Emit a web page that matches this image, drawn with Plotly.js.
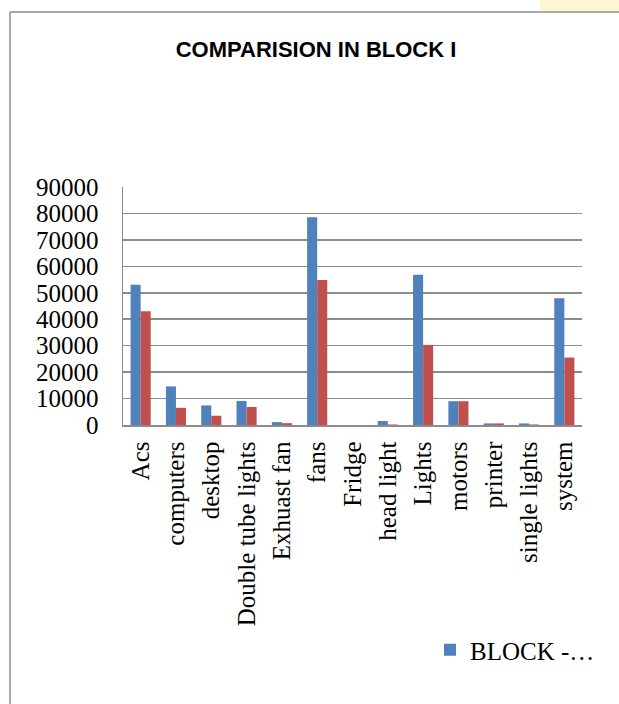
<!DOCTYPE html>
<html>
<head>
<meta charset="utf-8">
<script src="https://cdn.plot.ly/plotly-3.0.1.min.js"></script>
<style>
  html, body { margin: 0; padding: 0; background: #ffffff; overflow: hidden; }
  #chart { width: 619px; height: 704px; }
</style>
</head>
<body>
<div id="chart"></div>
<script>
// Appliance loads in Block I, two series per category
const categories = ["Acs", "computers", "desktop", "Double tube lights", "Exhuast fan",
  "fans", "Fridge", "head light", "Lights", "motors", "printer", "single lights", "system"];
const seriesA = [53000, 14600, 7400, 9100, 1100, 78600, 0, 1500, 56800, 9000, 600, 600, 47900];
const seriesB = [43000, 6500, 3500, 6800, 700, 54800, 0, 200, 30300, 9000, 600, 200, 25500];
const yTicks = [0, 10000, 20000, 30000, 40000, 50000, 60000, 70000, 80000, 90000];

const serif = "Liberation Serif, Times New Roman, serif";
const frameColor = "#8c8c8c";

const traces = [
  { type: "bar", x: categories, y: seriesA, name: "BLOCK -…",
    marker: { color: "#4F81BD" }, showlegend: true },
  { type: "bar", x: categories, y: seriesB, name: "BLOCK - II",
    marker: { color: "#C0504D" }, showlegend: false }
];

// plot area spans x 123..582 px and y 187..425 px
const px = v => (v - 123) / 459;
const py = v => (425 - v) / 238;

const layout = {
  width: 619, height: 704,
  margin: { l: 123, r: 37, t: 187, b: 279 },
  paper_bgcolor: "#ffffff", plot_bgcolor: "#ffffff",
  barmode: "group", bargap: 0.43, bargroupgap: 0,
  title: {
    text: "<b>COMPARISION IN BLOCK I</b>",
    font: { family: "Liberation Sans, Arial, sans-serif", size: 22, color: "#000000" },
    x: 316 / 619, xanchor: "center", xref: "container",
    y: 1 - 49.5 / 704, yanchor: "middle", yref: "container"
  },
  xaxis: {
    type: "category", tickangle: -90,
    tickfont: { family: serif, size: 25, color: "#000000" },
    showgrid: false, showline: true, linecolor: frameColor, linewidth: 1.5,
    ticks: "", ticklen: 0, ticklabelstandoff: 5, automargin: false
  },
  yaxis: {
    range: [0, 90000], tickvals: yTicks, ticktext: yTicks.map(String),
    tickfont: { family: serif, size: 25, color: "#000000" },
    showgrid: true, gridcolor: frameColor, gridwidth: 1.5,
    showline: true, linecolor: frameColor, linewidth: 1.5,
    zeroline: false, ticks: "", ticklabelstandoff: 18, automargin: false
  },
  legend: {
    orientation: "v", x: px(430), xanchor: "left",
    y: py(650), yanchor: "middle",
    font: { family: serif, size: 25, color: "#000000" },
    bgcolor: "rgba(0,0,0,0)", borderwidth: 0
  },
  shapes: [
    // pale tint along the top edge on the right
    { type: "rect", xref: "paper", yref: "paper", layer: "below",
      x0: px(540), x1: px(619), y0: py(11), y1: py(0),
      fillcolor: "#fdf6d2", line: { width: 0 } },
    // outer chart frame (top and left edges)
    { type: "line", xref: "paper", yref: "paper",
      x0: px(10), x1: px(619), y0: py(12), y1: py(12),
      line: { color: frameColor, width: 1.5 } },
    { type: "line", xref: "paper", yref: "paper",
      x0: px(10), x1: px(10), y0: py(12), y1: py(704),
      line: { color: frameColor, width: 1.5 } }
  ]
};

Plotly.newPlot("chart", traces, layout, { displayModeBar: false, staticPlot: true });
</script>
</body>
</html>
